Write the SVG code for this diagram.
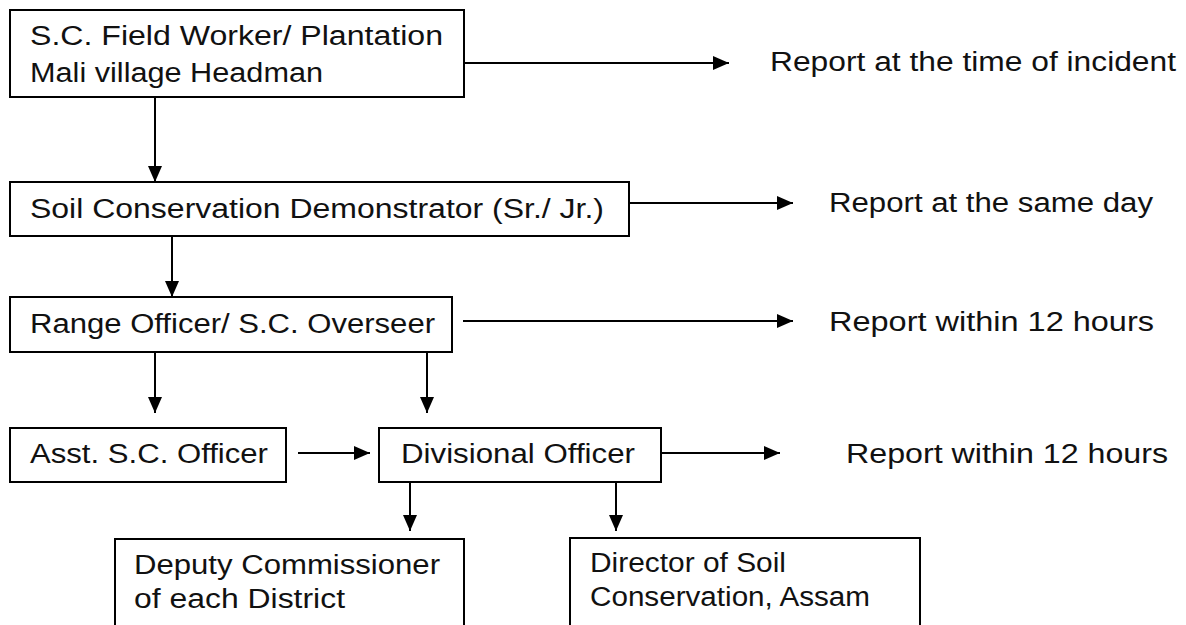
<svg xmlns="http://www.w3.org/2000/svg" width="1186" height="625" viewBox="0 0 1186 625">
<defs>
<marker id="ah" markerWidth="17" markerHeight="14" refX="16" refY="7" orient="auto" markerUnits="userSpaceOnUse">
<path d="M0,0 L16,7 L0,14 Z" fill="#000"/>
</marker>
<style>
.box{fill:#fff;stroke:#000;stroke-width:2}
.t{font-family:"Liberation Sans",Arial,sans-serif;font-size:27px;fill:#111}
.c{fill:none;stroke:#000;stroke-width:2;marker-end:url(#ah)}
</style>
</defs>
<rect width="1186" height="625" fill="#fff"/>
<g id="connectors">
<line class="c" x1="464" y1="63" x2="729" y2="63"/>
<line class="c" x1="155" y1="97" x2="155" y2="182"/>
<line class="c" x1="629" y1="203" x2="793" y2="203"/>
<line class="c" x1="172" y1="236" x2="172" y2="297"/>
<line class="c" x1="463" y1="321" x2="793" y2="321"/>
<line class="c" x1="155" y1="352" x2="155" y2="413"/>
<line class="c" x1="427" y1="352" x2="427" y2="413"/>
<line class="c" x1="298" y1="453" x2="370" y2="453"/>
<line class="c" x1="661" y1="453" x2="780" y2="453"/>
<line class="c" x1="410" y1="482" x2="410" y2="531"/>
<line class="c" x1="616" y1="482" x2="616" y2="531"/>
</g>
<g id="n1">
<rect class="box" x="10" y="10" width="454" height="87"/>
<text class="t" x="30" y="45" textLength="413" lengthAdjust="spacingAndGlyphs">S.C. Field Worker/ Plantation</text>
<text class="t" x="30" y="82" textLength="293" lengthAdjust="spacingAndGlyphs">Mali village Headman</text>
</g>
<g id="n2">
<rect class="box" x="10" y="182" width="619" height="54"/>
<text class="t" x="30" y="218" textLength="574" lengthAdjust="spacingAndGlyphs">Soil Conservation Demonstrator (Sr./ Jr.)</text>
</g>
<g id="n3">
<rect class="box" x="10" y="297" width="442" height="55"/>
<text class="t" x="30" y="333" textLength="405" lengthAdjust="spacingAndGlyphs">Range Officer/ S.C. Overseer</text>
</g>
<g id="n4">
<rect class="box" x="10" y="428" width="276" height="54"/>
<text class="t" x="30" y="463" textLength="238" lengthAdjust="spacingAndGlyphs">Asst. S.C. Officer</text>
</g>
<g id="n5">
<rect class="box" x="379" y="428" width="282" height="54"/>
<text class="t" x="401" y="463" textLength="234" lengthAdjust="spacingAndGlyphs">Divisional Officer</text>
</g>
<g id="n6">
<rect class="box" x="115" y="539" width="349" height="100"/>
<text class="t" x="134" y="574" textLength="306" lengthAdjust="spacingAndGlyphs">Deputy Commissioner</text>
<text class="t" x="134" y="608" textLength="211" lengthAdjust="spacingAndGlyphs">of each District</text>
</g>
<g id="n7">
<rect class="box" x="570" y="538" width="350" height="100"/>
<text class="t" x="590" y="572" textLength="196" lengthAdjust="spacingAndGlyphs">Director of Soil</text>
<text class="t" x="590" y="606" textLength="280" lengthAdjust="spacingAndGlyphs">Conservation, Assam</text>
</g>
<g id="labels">
<text class="t" x="770" y="71" textLength="406" lengthAdjust="spacingAndGlyphs">Report at the time of incident</text>
<text class="t" x="829" y="212" textLength="324" lengthAdjust="spacingAndGlyphs">Report at the same day</text>
<text class="t" x="829" y="331" textLength="325" lengthAdjust="spacingAndGlyphs">Report within 12 hours</text>
<text class="t" x="846" y="463" textLength="322" lengthAdjust="spacingAndGlyphs">Report within 12 hours</text>
</g>
</svg>
